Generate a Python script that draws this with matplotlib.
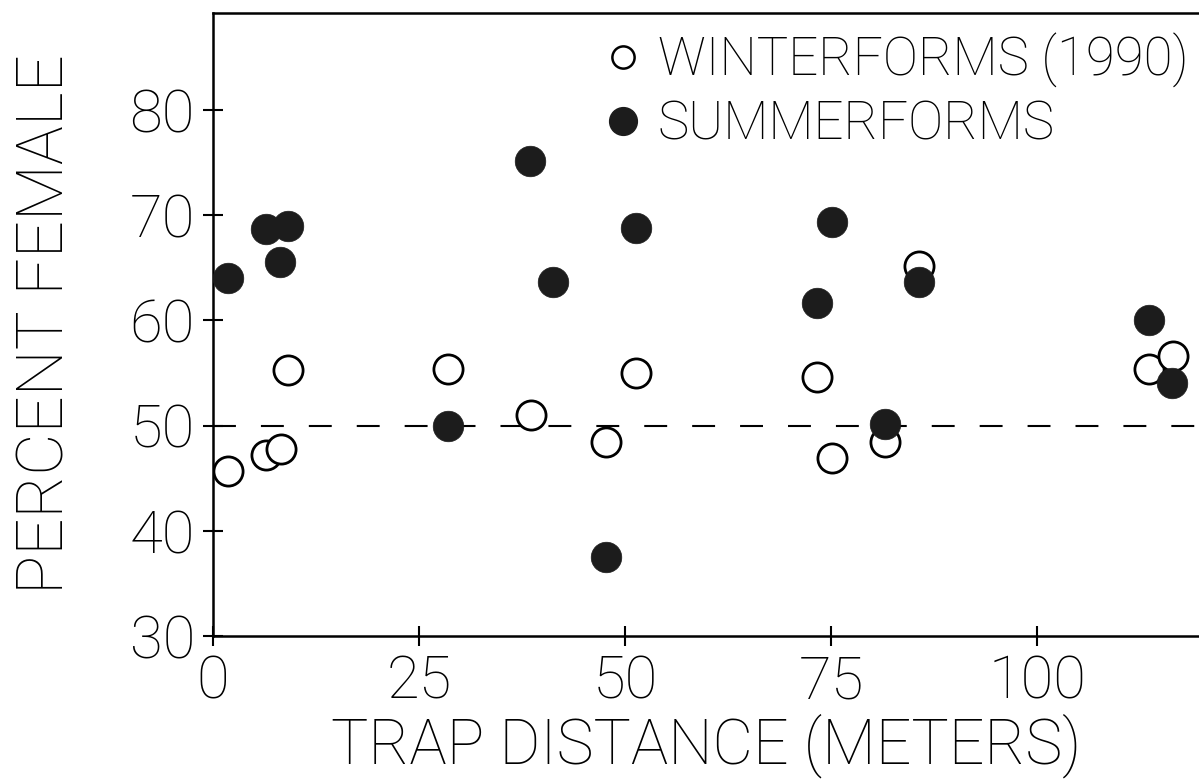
import matplotlib
matplotlib.use('Agg')
import matplotlib.pyplot as plt
from matplotlib.lines import Line2D

# Data
winter_x = [1.8, 6.4, 8.3, 9.1, 28.5, 38.6, 47.7, 51.3, 73.3, 75.1, 81.6, 85.7, 113.6, 116.5]
winter_y = [45.7, 47.2, 47.8, 55.3, 55.4, 51.0, 48.4, 55.0, 54.6, 46.9, 48.4, 65.2, 55.4, 56.6]
summer_x = [1.8, 6.4, 8.1, 9.1, 28.5, 38.5, 41.3, 47.7, 51.3, 73.3, 75.1, 81.6, 85.7, 113.6, 116.4]
summer_y = [64.0, 68.7, 65.5, 69.0, 50.0, 75.1, 63.6, 37.5, 68.8, 61.6, 69.3, 50.1, 63.6, 60.0, 54.0]
x_ticks = [0, 25, 50, 75, 100]
y_ticks = [30, 40, 50, 60, 70, 80]
reference_level = 50
labels = ['WINTERFORMS (1990)', 'SUMMERFORMS']

FONT = ['Roboto', 'Liberation Sans', 'DejaVu Sans']
plt.rcParams['font.family'] = FONT
plt.rcParams['font.weight'] = 'light'

fig = plt.figure(figsize=(11.99, 7.82), dpi=100)
ax = fig.add_axes([213/1199, 146/782, 986/1199, 623/782])

ax.axhline(reference_level, color='black', lw=1.5, dashes=(11, 12), zorder=1)

ax.scatter(winter_x, winter_y, s=21**2, facecolor='white', edgecolor='black',
           linewidths=2.0, zorder=3)
ax.scatter(summer_x, summer_y, s=22**2, facecolor='#1c1c1c', edgecolor='#1c1c1c',
           linewidths=0.5, zorder=4)

ax.set_xlim(0, 119.66)
ax.set_ylim(30, 89.2)
ax.set_xticks(x_ticks)
ax.set_yticks(y_ticks)
ax.tick_params(direction='inout', length=14, width=1.5, labelsize=43, pad=6)
for s in ['left', 'bottom', 'top']:
    ax.spines[s].set_linewidth(1.8)
ax.spines['right'].set_visible(False)

ax.set_xlabel('TRAP DISTANCE (METERS)', fontsize=45, labelpad=2, fontweight='light')
ax.set_ylabel('PERCENT FEMALE', fontsize=47, labelpad=38, fontweight='light')

handles = [
    Line2D([], [], ls='none', marker='o', ms=16, mfc='white', mec='black', mew=1.8),
    Line2D([], [], ls='none', marker='o', ms=20, mfc='#1c1c1c', mec='#1c1c1c'),
]
ax.legend(handles, labels, loc='upper left', bbox_to_anchor=(0.4026, 0.968),
          frameon=False, prop={'size': 38, 'weight': 'light'},
          handlelength=0.5, handletextpad=0.41,
          labelspacing=0.2, borderpad=0, borderaxespad=0)

fig.savefig('out.png', dpi=100)
